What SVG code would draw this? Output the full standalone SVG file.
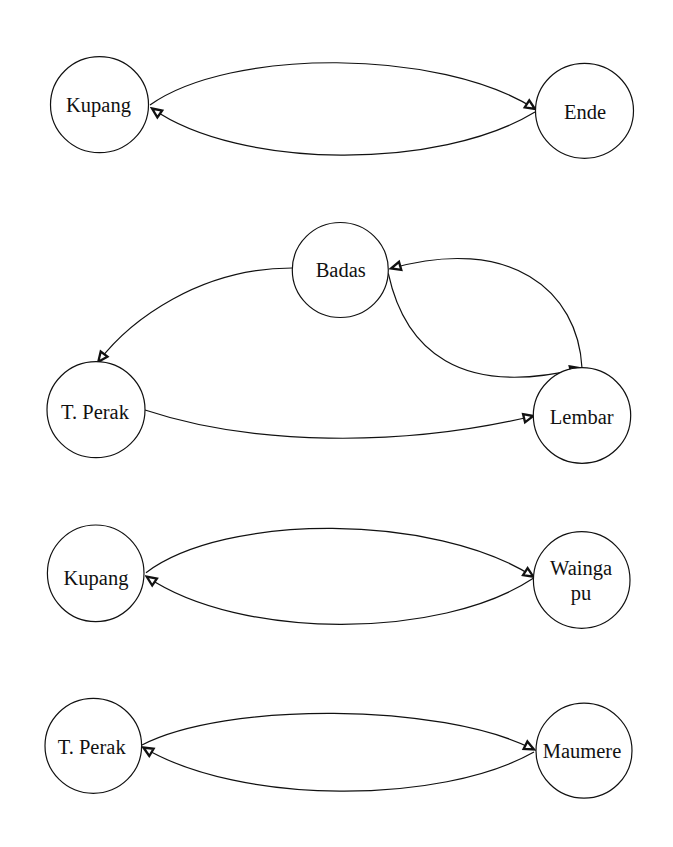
<svg xmlns="http://www.w3.org/2000/svg" width="673" height="847" viewBox="0 0 673 847">
<style>
.node ellipse{fill:#fff;stroke:#111;stroke-width:1.2}
.node text{font-family:"Liberation Serif","Times New Roman",serif;font-size:20.5px;fill:#111;text-anchor:middle}
.edges path{fill:none;stroke:#111;stroke-width:1.2;marker-end:url(#arr)}
</style>
<defs>
<marker id="arr" markerUnits="userSpaceOnUse" viewBox="0 0 14 14" markerWidth="14" markerHeight="14" refX="12" refY="7" orient="auto">
<path d="M2.5,2.8 L12,7 L2.5,11.2 Z" fill="#fff" stroke="#111" stroke-width="2.3" stroke-linejoin="miter"/>
</marker>
</defs>
<rect width="673" height="847" fill="#fff"/>
<g class="edges" id="edges">
<path d="M150,105 C230,48 440,48 535,109"/>
<path d="M535,112 C440,170 240,170 152,108.5"/>
<path d="M292,268 C200,268 130,320 98.3,361.7"/>
<path d="M388.3,273.3 C405,350 460,398 580,368.3"/>
<path d="M582,368 C578,290 510,235 391,268.5"/>
<path d="M145,410 C250,445 400,448 533.3,416"/>
<path d="M146,572.7 C225,513 435,513 533.3,576.7"/>
<path d="M533.3,578.3 C440,640 240,640 146.7,576.7"/>
<path d="M142,745 C225,702 440,702 534,749.5"/>
<path d="M534,752 C440,805 240,805 143.3,747.5"/>
</g>
<g class="node" id="n-kupang1"><ellipse cx="99.5" cy="104.7" rx="49" ry="48"/><text x="98.5" y="112">Kupang</text></g>
<g class="node" id="n-ende"><ellipse cx="584.5" cy="110.8" rx="49" ry="47.5"/><text x="585" y="118.5">Ende</text></g>
<g class="node" id="n-badas"><ellipse cx="340.3" cy="270" rx="48" ry="47.5"/><text x="340.7" y="277">Badas</text></g>
<g class="node" id="n-tperak1"><ellipse cx="96" cy="409.7" rx="49" ry="48"/><text x="95" y="419">T. Perak</text></g>
<g class="node" id="n-lembar"><ellipse cx="582" cy="415.5" rx="48.7" ry="47.8"/><text x="581.7" y="424">Lembar</text></g>
<g class="node" id="n-kupang2"><ellipse cx="95.7" cy="573.3" rx="48.3" ry="48.3"/><text x="96" y="585">Kupang</text></g>
<g class="node" id="n-waingapu"><ellipse cx="581.7" cy="580" rx="48.3" ry="48.3"/><text x="581" y="575">Wainga</text><text x="581" y="600">pu</text></g>
<g class="node" id="n-tperak2"><ellipse cx="93.3" cy="745.8" rx="48.3" ry="47.5"/><text x="91.7" y="754">T. Perak</text></g>
<g class="node" id="n-maumere"><ellipse cx="584" cy="750.7" rx="48" ry="47.5"/><text x="582" y="758">Maumere</text></g>
</svg>
